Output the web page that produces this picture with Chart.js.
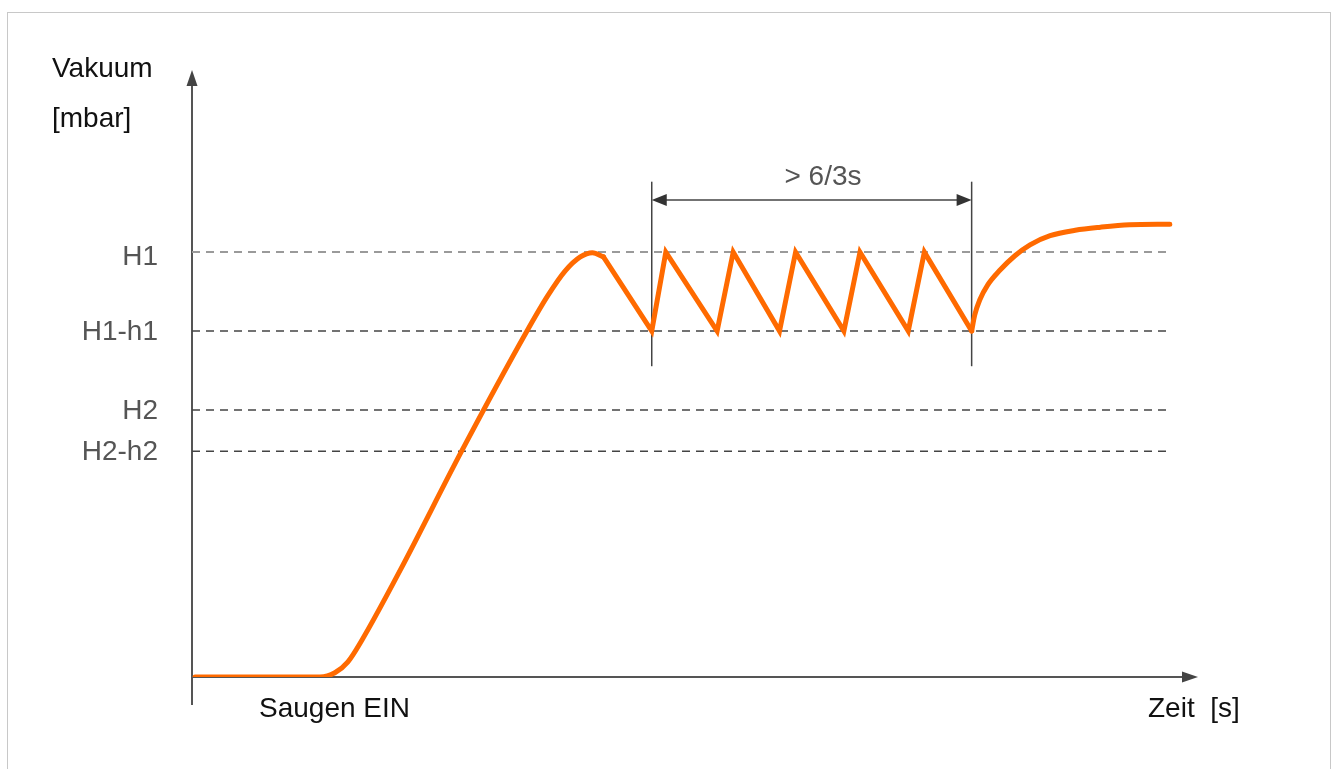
<!DOCTYPE html>
<html>
<head>
<meta charset="utf-8">
<script src="https://cdn.jsdelivr.net/npm/chart.js@4.4.1/dist/chart.umd.min.js"></script>
<style>
  html, body { margin: 0; padding: 0; background: #fff; }
  #box { position: absolute; left: 7px; top: 12px; width: 1322px; height: 780px; border: 1px solid #c8c8c8; }
  #graficoVakuum { position: absolute; left: 0; top: 0; }
</style>
</head>
<body>
<div id="box"></div>
<canvas id="graficoVakuum" width="1334" height="769"></canvas>
<script>
// Verlauf des Vakuums (x = Zeit, y = Vakuum, beliebige Einheiten)
// Anstieg nach "Saugen EIN"
const riseX = [0.3, 12.7, 14.2, 15.5, 16.9, 20.7, 26.8, 33.3, 35.4, 37.1, 38.6, 39.8, 40.9];
const riseY = [0, 0, 0.7, 2.5, 6.1, 17.6, 37.2, 57.0, 62.9, 66.9, 69.2, 69.9, 69.2];
// Regelung zwischen H1 und H1-h1
const sawX = [40.9, 45.7, 47.1, 52.2, 53.8, 58.4, 60.0, 64.8, 66.4, 71.2, 72.8, 77.5];
const sawY = [69.2, 57, 70, 57, 70, 57, 70, 57, 70, 57, 70, 57];
// Anstieg nach dem Zeitfenster
const endX = [77.5, 77.8, 78.3, 79.1, 80.3, 81.8, 83.3, 85.3, 87.8, 90.3, 93.2, 97.2];
const endY = [57, 59.6, 62.1, 64.6, 67.0, 69.4, 71.2, 72.7, 73.6, 74.1, 74.5, 74.6];

// Schaltpunkte
const levelNames = ['H1', 'H1-h1', 'H2', 'H2-h2'];
const levelValues = [70, 57, 44, 37.2];
const levelEnd = 97.2;

// Zeitfenster
const markerX = [45.7, 77.5];
const markerY = [51.2, 81.6];
const spanY = 78.6;
const spanLabel = '> 6/3s';

const yTitle = ['Vakuum', '[mbar]'];
const xStartLabel = 'Saugen EIN';
const xTitle = 'Zeit  [s]';

const ORANGE = '#ff6a00';
const FONT = '"Liberation Sans", Arial, sans-serif';

const toPts = (xs, ys) => xs.map((x, i) => ({ x: x, y: ys[i] }));

const datasets = [];
[[riseX, riseY, true], [sawX, sawY, false], [endX, endY, true]].forEach(([xs, ys, smooth]) => {
  datasets.push({
    data: toPts(xs, ys),
    borderColor: ORANGE,
    borderWidth: 5,
    pointRadius: 0,
    tension: 0,
    cubicInterpolationMode: smooth ? 'monotone' : 'default',
    borderJoinStyle: 'miter',
    borderCapStyle: 'round',
    order: 0,
  });
});
levelValues.forEach((v, i) => {
  datasets.push({
    data: [{ x: 0, y: v }, { x: levelEnd, y: v }],
    borderColor: i === 0 ? '#9a9a9a' : '#444',
    borderWidth: i === 0 ? 2 : 1.5,
    borderDash: [8, 6],
    pointRadius: 0,
    order: 1,
  });
});
markerX.forEach((x) => {
  datasets.push({
    data: [{ x: x, y: markerY[0] }, { x: x, y: markerY[1] }],
    borderColor: '#444',
    borderWidth: 1.5,
    pointRadius: 0,
    order: 1,
  });
});

function arrowHead(ctx, x, y, dir, len, half) {
  ctx.beginPath();
  if (dir === 'up') { ctx.moveTo(x, y); ctx.lineTo(x - half, y + len); ctx.lineTo(x + half, y + len); }
  if (dir === 'right') { ctx.moveTo(x, y); ctx.lineTo(x - len, y - half); ctx.lineTo(x - len, y + half); }
  if (dir === 'left') { ctx.moveTo(x, y); ctx.lineTo(x + len, y - half); ctx.lineTo(x + len, y + half); }
  ctx.closePath();
  ctx.fill();
}

const axesPlugin = {
  id: 'achsen',
  beforeDatasetsDraw(chart) {
    const ctx = chart.ctx;
    const a = chart.chartArea;
    const ys = chart.scales.y;
    ctx.save();
    ctx.strokeStyle = '#555';
    ctx.fillStyle = '#444';
    ctx.lineWidth = 2;
    // y-Achse
    ctx.beginPath();
    ctx.moveTo(a.left, ys.getPixelForValue(-4.6));
    ctx.lineTo(a.left, a.top + 10);
    ctx.stroke();
    arrowHead(ctx, a.left, a.top, 'up', 16, 5.5);
    // x-Achse
    ctx.beginPath();
    ctx.moveTo(a.left, a.bottom);
    ctx.lineTo(a.right - 10, a.bottom);
    ctx.stroke();
    arrowHead(ctx, a.right, a.bottom, 'right', 16, 5.5);
    ctx.restore();
  },
  afterDatasetsDraw(chart) {
    const ctx = chart.ctx;
    const a = chart.chartArea;
    const xs = chart.scales.x, ys = chart.scales.y;
    ctx.save();
    // Doppelpfeil
    const x1 = xs.getPixelForValue(markerX[0]);
    const x2 = xs.getPixelForValue(markerX[1]);
    const yA = ys.getPixelForValue(spanY);
    ctx.strokeStyle = '#444';
    ctx.fillStyle = '#333';
    ctx.lineWidth = 1.5;
    ctx.beginPath();
    ctx.moveTo(x1 + 8, yA);
    ctx.lineTo(x2 - 8, yA);
    ctx.stroke();
    arrowHead(ctx, x1, yA, 'left', 15, 6);
    arrowHead(ctx, x2, yA, 'right', 15, 6);

    ctx.fillStyle = '#555';
    ctx.font = '28px ' + FONT;
    ctx.textAlign = 'center';
    ctx.textBaseline = 'alphabetic';
    ctx.fillText(spanLabel, 823, yA - 15);

    // Beschriftung der Schaltpunkte
    ctx.textAlign = 'right';
    ctx.textBaseline = 'middle';
    levelNames.forEach((n, i) => {
      ctx.fillText(n, a.left - 34, ys.getPixelForValue(levelValues[i]) + (i === 0 ? 5 : 1));
    });

    // Achsentitel
    ctx.fillStyle = '#111';
    ctx.font = '28px ' + FONT;
    ctx.textAlign = 'left';
    ctx.textBaseline = 'alphabetic';
    ctx.fillText(yTitle[0], 52, 77);
    ctx.fillText(yTitle[1], 52, 127);
    ctx.fillText(xStartLabel, 259, a.bottom + 40);
    ctx.fillText(xTitle, 1148, a.bottom + 40);
    ctx.restore();
  }
};

const ctx = document.getElementById('graficoVakuum').getContext('2d');
const myChart = new Chart(ctx, {
  type: 'line',
  data: { datasets: datasets },
  options: {
    responsive: false,
    animation: false,
    devicePixelRatio: 1,
    layout: { padding: { left: 192, right: 136, top: 70, bottom: 92 } },
    scales: {
      x: { type: 'linear', min: 0, max: 100, display: false },
      y: { type: 'linear', min: 0, max: 100, display: false },
    },
    plugins: { legend: { display: false }, tooltip: { enabled: false } },
  },
  plugins: [axesPlugin],
});
</script>
</body>
</html>
